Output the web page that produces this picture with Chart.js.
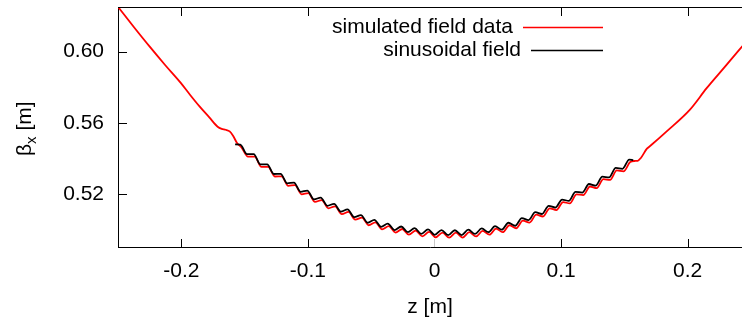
<!DOCTYPE html>
<html>
<head>
<meta charset="utf-8">
<script src="https://cdn.jsdelivr.net/npm/chart.js@4.4.1/dist/chart.umd.min.js"></script>
<style>
  html, body { margin: 0; padding: 0; background: #fff; overflow: hidden; }
  #myChart { display: block; }
</style>
</head>
<body>
<canvas id="myChart" width="742" height="323"></canvas>
<script>
"use strict"

// ---- data ----
const xTicks = [-0.2, -0.1, 0, 0.1, 0.2]
const yTicks = [0.52, 0.56, 0.60]
const xTitle = 'z [m]'
const seriesNames = ['simulated field data', 'sinusoidal field']

// simulated field data (red)
const zRed = [
    -0.2500, -0.2375, -0.2251, -0.2128, -0.2006, -0.1930, -0.1856, -0.1777, -0.1713, -0.1681,
    -0.1650, -0.1618, -0.1590, -0.1560,
    -0.1526, -0.1473, -0.1420, -0.1367, -0.1314, -0.1261, -0.1208, -0.1155, -0.1102, -0.1050,
    -0.0997, -0.0944, -0.0891, -0.0838, -0.0785, -0.0732, -0.0679, -0.0626, -0.0573, -0.0520,
    -0.0467, -0.0414, -0.0361, -0.0308, -0.0255, -0.0202, -0.0149, -0.0096, -0.0043, 0.0010,
    0.0063, 0.0116, 0.0169, 0.0222, 0.0275, 0.0328, 0.0381, 0.0434, 0.0486, 0.0539,
    0.0592, 0.0645, 0.0698, 0.0751, 0.0804, 0.0857, 0.0910, 0.0963, 0.1016, 0.1069,
    0.1122, 0.1175, 0.1228, 0.1281, 0.1334, 0.1387, 0.1440, 0.1493, 0.1546,
    0.1580, 0.1605, 0.1630, 0.1678, 0.1710, 0.1834, 0.2018, 0.2150, 0.2300, 0.2450
]
const betaRed = [
    0.6251, 0.6138, 0.6029, 0.5925, 0.5826, 0.5757, 0.5693, 0.5630, 0.5579, 0.5567,
    0.5562, 0.5553, 0.5527, 0.5488,
    0.5465, 0.5411, 0.5411, 0.5354, 0.5354, 0.5300, 0.5301, 0.5248, 0.5252, 0.5200,
    0.5207, 0.5158, 0.5168, 0.5122, 0.5133, 0.5089, 0.5102, 0.5058, 0.5070, 0.5027,
    0.5043, 0.5004, 0.5022, 0.4986, 0.5006, 0.4974, 0.4997, 0.4965, 0.4990, 0.4959,
    0.4986, 0.4957, 0.4985, 0.4958, 0.4988, 0.4964, 0.4995, 0.4974, 0.5008, 0.4988,
    0.5027, 0.5010, 0.5053, 0.5042, 0.5086, 0.5076, 0.5122, 0.5112, 0.5157, 0.5149,
    0.5200, 0.5196, 0.5244, 0.5235, 0.5285, 0.5281, 0.5334, 0.5329, 0.5381,
    0.5387, 0.5388, 0.5404, 0.5456, 0.5475, 0.5553, 0.5675, 0.5795, 0.5920, 0.6046
]

// sinusoidal field (black)
const zBlack = [
    -0.1575, -0.1534, -0.1481, -0.1428, -0.1375, -0.1322, -0.1269, -0.1216, -0.1163, -0.1110,
    -0.1058, -0.1005, -0.0952, -0.0899, -0.0846, -0.0793, -0.0740, -0.0687, -0.0634, -0.0581,
    -0.0528, -0.0475, -0.0422, -0.0369, -0.0316, -0.0263, -0.0210, -0.0157, -0.0104, -0.0051,
    0.0002, 0.0055, 0.0108, 0.0161, 0.0214, 0.0267, 0.0320, 0.0373, 0.0426, 0.0478,
    0.0531, 0.0584, 0.0637, 0.0690, 0.0743, 0.0796, 0.0849, 0.0902, 0.0955, 0.1008,
    0.1061, 0.1114, 0.1167, 0.1220, 0.1273, 0.1326, 0.1379, 0.1432, 0.1485, 0.1538, 0.1570
]
const betaBlack = [
    0.5480, 0.5479, 0.5425, 0.5425, 0.5368, 0.5368, 0.5314, 0.5315, 0.5262, 0.5266,
    0.5214, 0.5221, 0.5172, 0.5182, 0.5136, 0.5147, 0.5103, 0.5116, 0.5072, 0.5084,
    0.5041, 0.5057, 0.5018, 0.5036, 0.5000, 0.5020, 0.4988, 0.5011, 0.4979, 0.5004,
    0.4973, 0.5000, 0.4971, 0.4999, 0.4972, 0.5002, 0.4978, 0.5009, 0.4988, 0.5022,
    0.5002, 0.5041, 0.5024, 0.5067, 0.5056, 0.5100, 0.5090, 0.5136, 0.5126, 0.5171,
    0.5163, 0.5214, 0.5210, 0.5258, 0.5249, 0.5299, 0.5295, 0.5348, 0.5343, 0.5395, 0.5392
]

const FONT = "'Liberation Sans', Arial, Helvetica, sans-serif"
Chart.defaults.font.family = FONT
Chart.defaults.color = '#000'

// fixed box sizes, no extra room for half labels
function rettich_fix_box(s, size) {
    if (s.isHorizontal()) { s.height = size } else { s.width = size }
    s.paddingTop = 0
    s.paddingBottom = 0
    s.paddingLeft = 0
    s.paddingRight = 0
}

// inward ticks (gnuplot style), top line, key, y title with subscript
const rettich_frame = {
    id: 'rettich_frame',
    afterDraw(chart) {
        const g = chart.ctx
        const a = chart.chartArea
        const xs = chart.scales.x
        const ys = chart.scales.y
        const top = Math.round(a.top)
        const bot = Math.round(a.bottom)
        const left = Math.round(a.left)
        g.save()
        g.globalAlpha = 1
        g.globalCompositeOperation = 'source-over'
        g.fillStyle = '#000000'
        g.fillRect(left, top, chart.width - left, 1)
        for (const v of xTicks) {
            const px = Math.round(xs.getPixelForValue(v))
            g.fillStyle = (v === 0) ? '#c8c8c8' : '#000000'
            g.fillRect(px, bot - 8, 1, 8)
            if (v !== 0) g.fillRect(px, top, 1, 9)
        }
        g.fillStyle = '#000000'
        for (const v of yTicks) {
            const py = Math.round(ys.getPixelForValue(v))
            g.fillRect(left, py, 9, 1)
        }

        // key
        const keyRows = [
            {text: seriesNames[0], color: '#ff0000', textRight: 513, x1: 523, y: 27},
            {text: seriesNames[1], color: '#000000', textRight: 521, x1: 531, y: 50},
        ]
        g.font = '21px ' + FONT
        g.textAlign = 'right'
        g.textBaseline = 'middle'
        for (const row of keyRows) {
            g.fillStyle = '#000'
            g.fillText(row.text, row.textRight, row.y)
            g.strokeStyle = row.color
            g.lineWidth = 1.5
            g.beginPath()
            g.moveTo(row.x1, row.y + 0.5)
            g.lineTo(603, row.y + 0.5)
            g.stroke()
        }

        // y title
        g.fillStyle = '#000'
        g.textAlign = 'left'
        g.textBaseline = 'alphabetic'
        g.font = '21px ' + FONT
        const wB = g.measureText('\u03B2').width
        g.font = '15px ' + FONT
        const wX = g.measureText('x').width
        g.translate(31, 156)
        g.rotate(-Math.PI / 2)
        g.font = '21px ' + FONT
        g.fillText('\u03B2', 0, 0)
        g.font = '15px ' + FONT
        g.fillText('x', wB, 5)
        g.font = '21px ' + FONT
        g.fillText(' [m]', wB + wX, 0)
        g.restore()
    }
}

const canvas = document.getElementById('myChart')
const rettich_chart = new Chart(canvas, {
    type: 'line',
    data: {
        datasets: [
        {
            label: seriesNames[0],
            data: zRed.map((z, i) => ({x: z, y: betaRed[i]})),
            borderColor: '#ff0000',
            borderWidth: 1.8,
            pointRadius: 0,
            cubicInterpolationMode: 'monotone',
            order: 2,
        },
        {
            label: seriesNames[1],
            data: zBlack.map((z, i) => ({x: z, y: betaBlack[i]})),
            borderColor: '#000000',
            borderWidth: 1.8,
            pointRadius: 0,
            cubicInterpolationMode: 'monotone',
            order: 1,
        },]
    },
    options: {
        responsive: false,
        animation: false,
        layout: { padding: 0 },
        plugins: { legend: { display: false }, tooltip: { enabled: false } },
        scales: {
            x: {
                type: 'linear',
                position: 'bottom',
                min: -0.25,
                max: 0.2429,
                afterBuildTicks: s => { s.ticks = xTicks.map(v => ({value: v})) },
                afterFit: s => rettich_fix_box(s, 76),
                grid: { display: false, drawTicks: false },
                border: { display: true, color: '#000', width: 1 },
                ticks: {
                    font: { size: 21 },
                    color: '#000',
                    padding: 12,
                    maxRotation: 0,
                    callback: v => (v === 0 ? '0' : v.toFixed(1)),
                },
                title: { display: true, text: xTitle, font: { size: 21 }, color: '#000', padding: { top: 0, bottom: 3 } },
            },
            // top frame line
            xTop: {
                type: 'linear',
                position: 'top',
                min: -0.25,
                max: 0.2429,
                afterBuildTicks: s => { s.ticks = xTicks.map(v => ({value: v})) },
                afterFit: s => rettich_fix_box(s, 7),
                grid: { display: true, drawOnChartArea: false, drawTicks: false, color: '#000' },
                border: { display: true, color: '#000', width: 1 },
                ticks: { display: false },
            },
            y: {
                type: 'linear',
                position: 'left',
                min: 0.4905,
                max: 0.625,
                afterBuildTicks: s => { s.ticks = yTicks.map(v => ({value: v})) },
                afterFit: s => rettich_fix_box(s, 118),
                grid: { display: false, drawTicks: false },
                border: { display: true, color: '#000', width: 1 },
                ticks: {
                    font: { size: 21 },
                    color: '#000',
                    padding: 14,
                    callback: v => v.toFixed(2),
                },
            }
        }
    },
    plugins: [rettich_frame]
})
</script>
</body>
</html>
